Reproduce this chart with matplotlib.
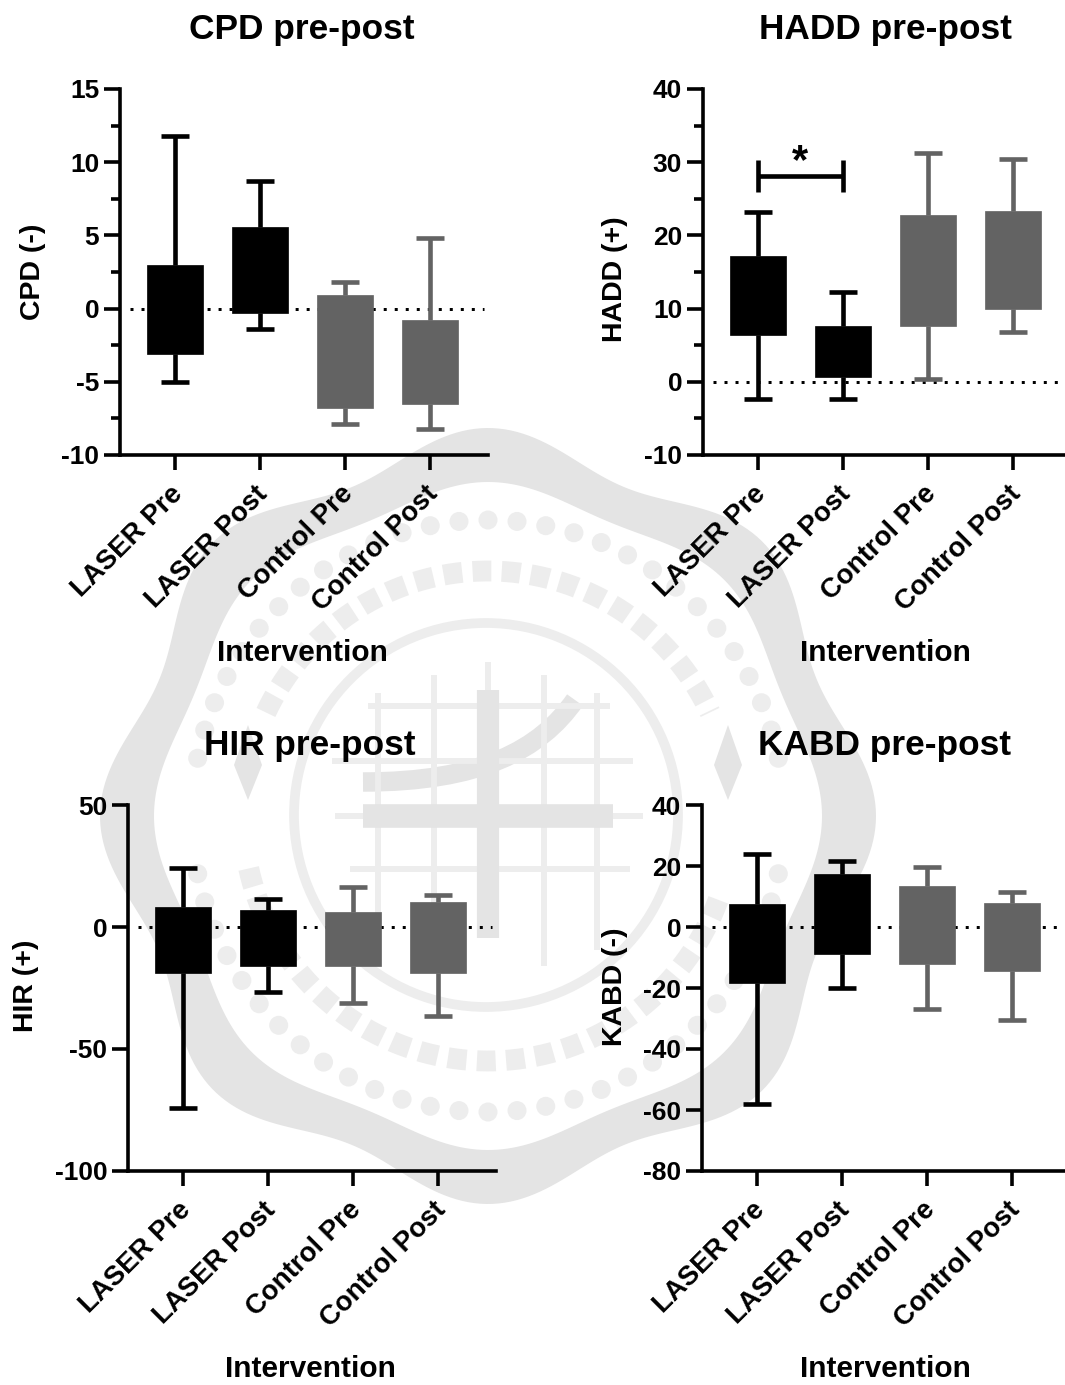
import numpy as np
import matplotlib
matplotlib.use("Agg")
import matplotlib.pyplot as plt
from matplotlib.patches import Circle, PathPatch, Polygon
from matplotlib.path import Path
from matplotlib.transforms import ScaledTranslation

plt.rcParams["font.family"] = ["Liberation Sans", "DejaVu Sans"]
plt.rcParams["font.weight"] = "bold"
plt.rcParams["axes.unicode_minus"] = False

W, H = 1065, 1385
groups = ["LASER Pre", "LASER Post", "Control Pre", "Control Post"]
colors = ["#000000", "#000000", "#636363", "#636363"]

# low whisker, q1, q3, high whisker per group
cpd_low = [-5.0, -1.4, -7.9, -8.2]
cpd_q1 = [-3.1, -0.3, -6.8, -6.5]
cpd_q3 = [3.0, 5.6, 0.9, -0.8]
cpd_high = [11.8, 8.7, 1.8, 4.8]

hadd_low = [-2.4, -2.4, 0.4, 6.8]
hadd_q1 = [6.4, 0.6, 7.6, 10.0]
hadd_q3 = [17.2, 7.6, 22.8, 23.4]
hadd_high = [23.2, 12.2, 31.2, 30.4]

hir_low = [-74, -26.6, -31, -36.5]
hir_q1 = [-19, -16, -15.8, -19]
hir_q3 = [8, 6.8, 6, 10.3]
hir_high = [24, 11.5, 16.4, 13]

kabd_low = [-58, -20, -26.8, -30.5]
kabd_q1 = [-18.5, -9, -12, -14.5]
kabd_q3 = [7.5, 17.3, 13.5, 8]
kabd_high = [24, 21.7, 19.6, 11.5]

LINE = 3.6 * 0.72
YTICK_FS = 19
XTICK_FS = 19.8
XLABEL_FS = 21.5
YLABEL_FS = 20.5
TITLE_FS = 25.4


def draw_seal(fig):
    # the grey university stamp behind the panels
    bg = fig.add_axes([0, 0, 1, 1], zorder=0)
    bg.set_xlim(0, W)
    bg.set_ylim(H, 0)
    bg.axis("off")
    grey = "#e4e4e4"
    light = "#ededed"
    cx, cy = 488, 816

    theta = np.linspace(0, 2 * np.pi, 400)
    outer = 372 + 16 * np.cos(8 * theta)
    inner = 326 + 8 * np.cos(8 * theta)
    xo, yo = cx + outer * np.cos(theta), cy + outer * np.sin(theta)
    xi, yi = cx + inner * np.cos(theta[::-1]), cy + inner * np.sin(theta[::-1])
    verts = np.concatenate([np.c_[xo, yo], np.c_[xi, yi]])
    codes = np.full(len(verts), Path.LINETO)
    codes[0] = Path.MOVETO
    codes[len(xo)] = Path.MOVETO
    bg.add_patch(PathPatch(Path(verts, codes), fc=grey, ec="none"))

    for a in np.linspace(0, 2 * np.pi, 64, endpoint=False):
        if abs(np.cos(a)) > 0.985:
            continue
        bg.add_patch(Circle((cx + 296 * np.cos(a), cy + 296 * np.sin(a)), 9.5, fc=light, ec="none"))

    # side ornaments of the stamp
    for sx in [-1, 1]:
        ox = cx + sx * 240
        bg.add_patch(Polygon([(ox, 725), (ox + 14, 765), (ox, 800), (ox - 14, 765)], fc=grey, ec="none"))

    # lettering of the stamp, only as a rough band
    top = np.radians(np.linspace(205, 335, 80))
    bg.plot(cx + 245 * np.cos(top), cy + 245 * np.sin(top), color=light, lw=15, ls=(0, (0.9, 0.5)))
    bottom = np.radians(np.linspace(20, 170, 80))
    bg.plot(cx + 245 * np.cos(bottom), cy + 245 * np.sin(bottom), color=light, lw=15, ls=(0, (0.9, 0.5)))

    bg.add_patch(Circle((cx - 2, cy - 1), 192, fc="none", ec=light, lw=7))

    for x, y0, y1 in [(378, 693, 950), (434, 675, 966), (544, 675, 966), (597, 693, 950)]:
        bg.plot([x, x], [y0, y1], color=light, lw=4.3, solid_capstyle="butt")
    for y, x0, x1 in [(706, 368, 610), (761, 332, 633), (869, 350, 630)]:
        bg.plot([x0, x1], [y, y], color=light, lw=4.3, solid_capstyle="butt")
    bg.plot([335, 643], [816, 816], color=light, lw=4.3, solid_capstyle="butt")
    bg.plot([363, 613], [816, 816], color=grey, lw=17, solid_capstyle="butt")
    bg.plot([488, 488], [690, 938], color=grey, lw=16, solid_capstyle="butt")
    bg.plot([488, 488], [662, 690], color=light, lw=4.3, solid_capstyle="butt")
    curve = Path([(363, 782), (480, 782), (540, 750), (575, 700)],
                 [Path.MOVETO, Path.CURVE4, Path.CURVE4, Path.CURVE4])
    bg.add_patch(PathPatch(curve, fc="none", ec=grey, lw=14, capstyle="butt"))


def draw_panel(fig, box_px, ylim, major, minor, low, q1, q3, high, title, ylabel, title_x, title_y, ylab_x, ylab_y):
    left, right, top, bottom, first_x = box_px
    ax = fig.add_axes([left / W, 1 - bottom / H, (right - left) / W, (bottom - top) / H], zorder=1)
    ax.patch.set_alpha(0)
    step = 85
    ax.set_xlim((left - first_x) / step, (right - first_x) / step)
    ax.set_ylim(*ylim)

    ax.axhline(0, xmin=0.028, xmax=0.99, color="black", lw=3 * 0.72, ls=(0, (1, 2.67)), zorder=1)

    for i in range(4):
        stats = [{"whislo": low[i], "q1": q1[i], "med": q1[i], "q3": q3[i], "whishi": high[i]}]
        c = colors[i]
        ax.bxp(stats, positions=[i], widths=0.66, capwidths=0.32, patch_artist=True,
               showfliers=False, manage_ticks=False, zorder=2,
               boxprops=dict(facecolor=c, edgecolor=c, linewidth=0.5),
               medianprops=dict(linewidth=0),
               whiskerprops=dict(color=c, linewidth=4.6 * 0.72, solid_capstyle="butt"),
               capprops=dict(color=c, linewidth=4.6 * 0.72, solid_capstyle="butt"))

    for side in ["top", "right"]:
        ax.spines[side].set_visible(False)
    for side in ["left", "bottom"]:
        ax.spines[side].set_linewidth(LINE)

    ax.set_yticks(major)
    ax.set_yticks(minor, minor=True)
    ax.set_xticks(range(4))
    ax.set_xticklabels(groups, rotation=45, ha="right", va="top", rotation_mode="anchor")
    ax.tick_params(axis="y", which="major", length=16 * 0.72, width=LINE, labelsize=YTICK_FS, pad=3.5)
    ax.tick_params(axis="y", which="minor", length=9 * 0.72, width=LINE)
    ax.tick_params(axis="x", which="major", length=15 * 0.72, width=LINE, labelsize=XTICK_FS, pad=8)
    shift = ScaledTranslation(-5 / 100, 0, fig.dpi_scale_trans)
    for lab in ax.get_xticklabels():
        lab.set_transform(lab.get_transform() + shift)

    fig.text(title_x / W, 1 - title_y / H, title, fontsize=TITLE_FS, ha="center", va="center")
    fig.text(title_x / W, 1 - (bottom + 198) / H, "Intervention", fontsize=XLABEL_FS, ha="center", va="center")
    fig.text(ylab_x / W, 1 - ylab_y / H, ylabel, fontsize=YLABEL_FS, rotation=90, ha="center", va="center")
    return ax


fig = plt.figure(figsize=(W / 100, H / 100), dpi=100)
draw_seal(fig)

draw_panel(fig, (120, 488, 89, 455, 175), (-10, 15), [-10, -5, 0, 5, 10, 15],
           [-7.5, -2.5, 2.5, 7.5, 12.5], cpd_low, cpd_q1, cpd_q3, cpd_high,
           "CPD pre-post", "CPD (-)", 302, 30, 33, 272)
ax2 = draw_panel(fig, (703, 1065, 89, 455, 758), (-10, 40), [-10, 0, 10, 20, 30, 40],
                 [-5, 5, 15, 25, 35], hadd_low, hadd_q1, hadd_q3, hadd_high,
                 "HADD pre-post", "HADD (+)", 885, 30, 615, 279)
draw_panel(fig, (128, 496, 805, 1171, 183), (-100, 50), [-100, -50, 0, 50],
           [], hir_low, hir_q1, hir_q3, hir_high,
           "HIR pre-post", "HIR (+)", 310, 746, 26, 986)
draw_panel(fig, (702, 1065, 805, 1171, 757), (-80, 40), [-80, -60, -40, -20, 0, 20, 40],
           [], kabd_low, kabd_q1, kabd_q3, kabd_high,
           "KABD pre-post", "KABD (-)", 885, 746, 615, 987)

# significance bracket on HADD
ax2.plot([0, 1], [28.1, 28.1], color="black", lw=4.6 * 0.72, solid_capstyle="butt", zorder=3)
ax2.plot([0, 0], [25.9, 30.3], color="black", lw=4.6 * 0.72, solid_capstyle="butt", zorder=3)
ax2.plot([1, 1], [25.9, 30.3], color="black", lw=4.6 * 0.72, solid_capstyle="butt", zorder=3)
ax2.text(0.5, 30.0, "*", fontsize=30, ha="center", va="center")

fig.savefig("out.png", dpi=100)
plt.close(fig)
